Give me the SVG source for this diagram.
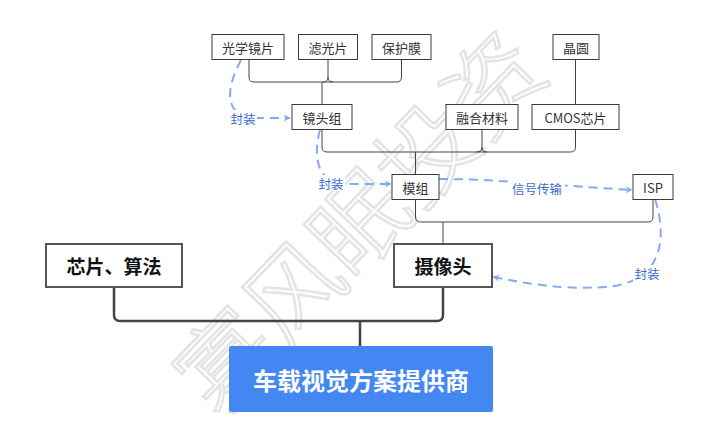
<svg xmlns="http://www.w3.org/2000/svg" width="718" height="443" viewBox="0 0 718 443">
<style>
.bx{fill:#fff;stroke:#3a3a3a;stroke-width:1}
.bb{fill:#fff;stroke:#555;stroke-width:2}
.t{font-family:"Noto Sans CJK SC","Liberation Sans",sans-serif;font-size:13px;fill:#333;text-anchor:middle;dominant-baseline:central}
.tb{font-family:"Noto Sans CJK SC","Liberation Sans",sans-serif;font-size:19px;font-weight:bold;fill:#111;text-anchor:middle;dominant-baseline:central}
.tm{font-family:"Noto Sans CJK SC","Liberation Sans",sans-serif;font-size:24px;font-weight:bold;fill:#fff;text-anchor:middle;dominant-baseline:central}
.ln{fill:none;stroke:#444;stroke-width:1}
.lt{fill:none;stroke:#444;stroke-width:2.5}
.ds{fill:none;stroke:#86a9f2;stroke-width:2;stroke-dasharray:9 6}
.lb{font-family:"Noto Sans CJK SC","Liberation Sans",sans-serif;font-size:12.5px;fill:#3d6ccc;text-anchor:middle;dominant-baseline:central}
.wm{font-family:"Noto Sans CJK SC","Liberation Serif",serif;font-size:96px;font-weight:300;fill:none;stroke:#e4e4e4;stroke-width:2.5}
</style>
<defs>
<marker id="ar" viewBox="0 0 10 10" refX="9" refY="5" markerWidth="7" markerHeight="7" markerUnits="userSpaceOnUse" orient="auto">
<path d="M0,0 L10,5 L0,10 L3,5 Z" fill="#86a9f2"/>
</marker>
</defs>
<rect width="718" height="443" fill="#fff"/>
<text class="wm" x="355" y="218" text-anchor="middle" dominant-baseline="central" transform="rotate(-46 355 218)">寡风眠投资</text>
<g id="connectors">
<path class="ln" d="M249,59.5 V77 Q249,82 254,82 H396.5 Q401.5,82 401.5,77 V59.5 M328,59.5 V77 Q328,82 323,82 M328,77 Q328,82 333,82 M322,82 V104.5"/>
<path class="ln" d="M575.5,59.5 V104.5"/>
<path class="ln" d="M322,129.5 V147 Q322,152 327,152 H570.5 Q575.5,152 575.5,147 V129.5 M482,129.5 V147 Q482,152 477,152 M482,147 Q482,152 487,152 M415.5,152 V174.5"/>
<path class="ln" d="M415.5,199.5 V217 Q415.5,222 420.5,222 H648 Q653,222 653,217 V199.5 M443,222 V244"/>
<path class="lt" d="M114,287 V315 Q114,321 120,321 H437 Q443,321 443,315 V287 M360,321 V346"/>
<path class="ds" d="M241,60 C226,88 222,118 258,118 L290,118" marker-end="url(#ar)"/>
<path class="ds" d="M320,130 C314,150 314,184 345,184 L391,184" marker-end="url(#ar)"/>
<path class="ds" d="M439,179 C500,179 560,186 632,190" marker-end="url(#ar)"/>
<path class="ds" d="M655,199 C668,240 662,283 605,287 C560,290 525,283 493,277" marker-end="url(#ar)"/>
<rect x="229" y="110" width="28" height="16" fill="#fff"/>
<text class="lb" x="243" y="118">封装</text>
<rect x="317" y="175" width="28" height="16" fill="#fff"/>
<text class="lb" x="331" y="183">封装</text>
<rect x="509" y="180" width="56" height="16" fill="#fff"/>
<text class="lb" x="537" y="188">信号传输</text>
<rect x="633" y="265" width="28" height="16" fill="#fff"/>
<text class="lb" x="647" y="273">封装</text>
</g>
<g id="n-gxjp"><rect class="bx" x="212" y="34.5" width="72" height="25"/><text class="t" x="248" y="47">光学镜片</text></g>
<g id="n-lgp"><rect class="bx" x="298.5" y="34.5" width="59" height="25"/><text class="t" x="328" y="47">滤光片</text></g>
<g id="n-bhm"><rect class="bx" x="372" y="34.5" width="59" height="25"/><text class="t" x="401.5" y="47">保护膜</text></g>
<g id="n-jy"><rect class="bx" x="553" y="34.5" width="46" height="25"/><text class="t" x="576" y="47">晶圆</text></g>
<g id="n-jtz"><rect class="bx" x="292" y="104.5" width="60" height="25"/><text class="t" x="322" y="117">镜头组</text></g>
<g id="n-rhcl"><rect class="bx" x="446" y="104.5" width="72" height="25"/><text class="t" x="482" y="117">融合材料</text></g>
<g id="n-cmos"><rect class="bx" x="532" y="104.5" width="87" height="25"/><text class="t" x="575.5" y="117">CMOS芯片</text></g>
<g id="n-mz"><rect class="bx" x="392" y="174.5" width="47" height="25"/><text class="t" x="415.5" y="187">模组</text></g>
<g id="n-isp"><rect class="bx" x="633" y="174.5" width="40" height="25"/><text class="t" x="653" y="187">ISP</text></g>
<g id="n-xpsf"><rect class="bb" x="46" y="244" width="136" height="43"/><text class="tb" x="114" y="265.5">芯片、算法</text></g>
<g id="n-sxt"><rect class="bb" x="394" y="244" width="98" height="43"/><text class="tb" x="443" y="265.5">摄像头</text></g>
<g id="n-main"><rect x="229" y="346" width="264" height="66" rx="2" fill="#4387f2"/><text class="tm" x="361" y="379">车载视觉方案提供商</text></g>
</svg>
